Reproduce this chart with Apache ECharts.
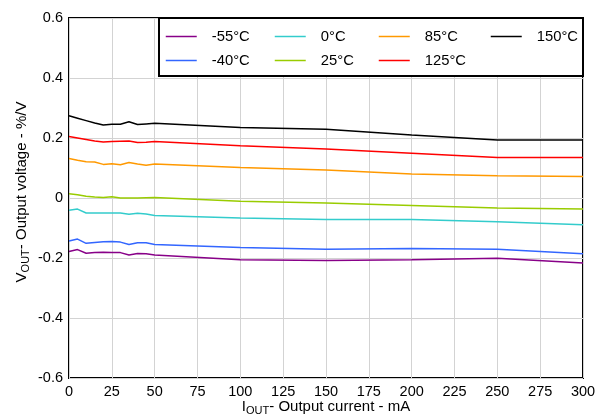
<!DOCTYPE html>
<html>
<head>
<meta charset="utf-8">
<script src="https://cdn.jsdelivr.net/npm/echarts@6/dist/echarts.min.js"></script>
<style>html,body{margin:0;padding:0;background:#fff}#c{width:596px;height:416px}</style>
</head>
<body>
<div id="c"></div>
<script>
const currents = [0, 5, 10, 15, 20, 25, 30, 35, 40, 45, 50, 100, 150, 200, 250, 300];
const seriesNames = ['-55°C', '-40°C', '0°C', '25°C', '85°C', '125°C', '150°C'];
const tM55 = [-0.178, -0.172, -0.184, -0.182, -0.181, -0.182, -0.182, -0.190, -0.185, -0.186, -0.190, -0.206, -0.208, -0.206, -0.201, -0.217];
const tM40 = [-0.143, -0.137, -0.151, -0.148, -0.146, -0.145, -0.147, -0.155, -0.149, -0.149, -0.155, -0.165, -0.171, -0.168, -0.171, -0.186];
const t0   = [-0.041, -0.037, -0.050, -0.050, -0.050, -0.050, -0.050, -0.054, -0.051, -0.053, -0.058, -0.067, -0.072, -0.072, -0.079, -0.089];
const t25  = [0.014, 0.011, 0.006, 0.003, 0.002, 0.004, 0.000, 0.000, 0.000, 0.001, 0.002, -0.011, -0.017, -0.025, -0.033, -0.037];
const t85  = [0.132, 0.126, 0.121, 0.120, 0.112, 0.114, 0.111, 0.118, 0.113, 0.109, 0.113, 0.102, 0.093, 0.080, 0.074, 0.072];
const t125 = [0.205, 0.200, 0.195, 0.190, 0.187, 0.188, 0.189, 0.190, 0.185, 0.186, 0.188, 0.174, 0.163, 0.149, 0.135, 0.135];
const t150 = [0.274, 0.266, 0.258, 0.250, 0.243, 0.246, 0.246, 0.254, 0.245, 0.247, 0.249, 0.235, 0.229, 0.210, 0.193, 0.193];
const seriesValues = [tM55, tM40, t0, t25, t85, t125, t150];
const colors = ['#880088', '#3366FF', '#33CCCC', '#99CC00', '#FF9900', '#FF0000', '#000000'];
const xTicks = [0, 25, 50, 75, 100, 125, 150, 175, 200, 225, 250, 275, 300];
const yTicks = [-0.6, -0.4, -0.2, 0, 0.2, 0.4, 0.6];

const FONT = 'Liberation Sans, Arial, sans-serif';
const chart = echarts.init(document.getElementById('c'), null, {renderer: 'canvas'});

const series = seriesNames.map((n, i) => ({
  name: n,
  type: 'line',
  symbol: 'none',
  smooth: false,
  z: 2,
  lineStyle: {width: 1.5, color: colors[i]},
  itemStyle: {color: colors[i]},
  data: currents.map((x, j) => [x, seriesValues[i][j]])
}));

const legendCols = [[0, 1], [2, 3], [4, 5], [6]];
const legendLefts = [165, 274, 378, 490];
const legends = legendCols.map((idx, k) => ({
  orient: 'vertical',
  left: legendLefts[k],
  top: 29,
  padding: 0,
  itemWidth: 31,
  itemHeight: 14,
  itemGap: 9,
  z: 10,
  selectedMode: false,
  itemStyle: {opacity: 0},
  lineStyle: {width: 1.5},
  data: idx.map(i => seriesNames[i]),
  textStyle: {fontFamily: FONT, fontSize: 14.8, color: '#000', padding: [0, 0, 0, 10]}
}));

chart.setOption({
  animation: false,
  backgroundColor: '#fff',
  color: colors,
  grid: {left: 69, right: 13, top: 18, bottom: 38, outerBoundsMode: 'none', containLabel: false,
    show: true, borderColor: '#000', borderWidth: 2, backgroundColor: 'transparent'},
  legend: legends,
  graphic: [{
    type: 'rect', z: 5,
    shape: {x: 159, y: 18, width: 424, height: 58},
    style: {fill: '#fff', stroke: '#000', lineWidth: 2}
  }],
  xAxis: {
    type: 'value', min: 0, max: 300, interval: 25,
    name: 'I{sub|OUT}- Output current - mA',
    nameLocation: 'middle', nameGap: 20, nameMoveOverlap: false,
    nameTextStyle: {fontFamily: FONT, fontSize: 15, color: '#000',
      rich: {sub: {fontFamily: FONT, fontSize: 11, color: '#000', padding: [7, 0, 0, 0]}}},
    axisLine: {show: false},
    axisTick: {show: false},
    axisLabel: {fontFamily: FONT, fontSize: 14.5, color: '#000', margin: 6,
      formatter: v => xTicks.includes(v) ? String(v) : ''},
    splitLine: {show: true, lineStyle: {color: '#D3D3D3', width: 1}}
  },
  yAxis: {
    type: 'value', min: -0.6, max: 0.6, interval: 0.2,
    name: 'V{sub|OUT}- Output voltage - %/V',
    nameLocation: 'middle', nameGap: 38, nameMoveOverlap: false,
    nameTextStyle: {fontFamily: FONT, fontSize: 15, color: '#000', padding: [0, 0, 0, 12],
      rich: {sub: {fontFamily: FONT, fontSize: 11, color: '#000', padding: [7, 0, 0, 0]}}},
    axisLine: {show: false},
    axisTick: {show: false},
    axisLabel: {fontFamily: FONT, fontSize: 14.5, color: '#000', margin: 6,
      formatter: v => {
        const r = Math.round(v * 10) / 10;
        const t = yTicks.find(y => Math.abs(y - r) < 1e-9);
        return t === undefined ? '' : (t === 0 ? '0' : String(t));
      }},
    splitLine: {show: true, lineStyle: {color: '#D3D3D3', width: 1}}
  },
  series: series
});
</script>
</body>
</html>
